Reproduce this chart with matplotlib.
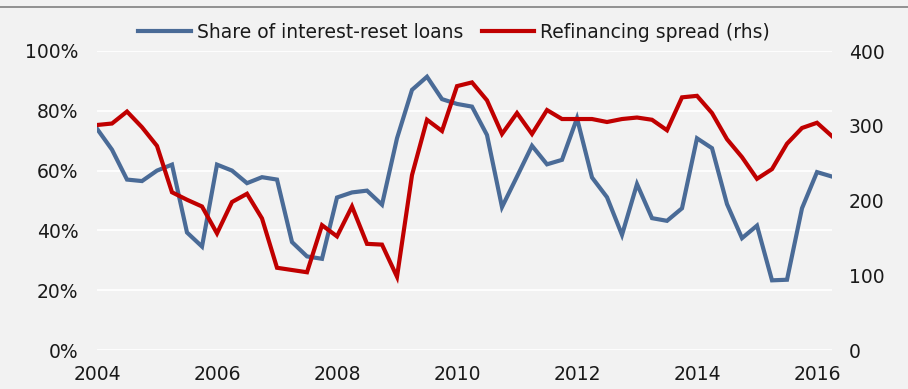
import matplotlib.pyplot as plt
import numpy as np

# quarterly observations, 2004Q1 .. 2016Q2
quarters = [f'{y}Q{q}' for y in range(2004, 2017) for q in range(1, 5)][:50]

# share of interest-reset loans (%), left axis
reset_share = [74, 67, 57, 56.5, 60, 62, 39.3, 34.6, 62, 60,
               55.8, 57.8, 57, 36.1, 31.3, 30.5, 51, 52.7, 53.3, 48.6,
               70.8, 87, 91.4, 83.9, 82.3, 81.4, 71.9, 47.8, 58, 68.3,
               62.1, 63.6, 77.5, 57.7, 51.1, 38.5, 55.5, 44.1, 43.2, 47.4,
               70.8, 67.5, 48.8, 37.4, 41.6, 23.3, 23.5, 47.4, 59.5, 58]

# refinancing spread (bp), right axis
refi_spread = [301, 303, 319, 298, 273, 211, 201, 192, 156, 198,
               209, 176, 110, 107, 104, 167, 152, 192, 142, 141,
               98, 234, 308, 293, 353, 358, 334, 289, 317, 289,
               321, 309, 309, 309, 305, 309, 311, 308, 294, 338,
               340, 317, 282, 258, 229, 242, 276, 297, 304, 286]

year_ticks = [0, 8, 16, 24, 32, 40, 48]
year_labels = ['2004', '2006', '2008', '2010', '2012', '2014', '2016']

bg = '#f2f2f2'
blue = '#4a6b97'
red = '#c00000'
txt = '#1a1a1a'

plt.rcParams['font.family'] = ['DejaVu Sans']

fig = plt.figure(figsize=(9.08, 3.89), dpi=100, facecolor=bg)
ax = fig.add_axes([97/908, 1 - 350/389, 735/908, 299/389], facecolor=bg)
ax2 = ax.twinx()

x = np.arange(len(quarters))

# white horizontal gridlines from the left scale
for v in [0, 20, 40, 60, 80, 100]:
    ax.axhline(v, color='white', lw=1.3, zorder=0)

l1, = ax.plot(x, reset_share, color=blue, lw=3, solid_joinstyle='miter',
              label='Share of interest-reset loans', zorder=3)
l2, = ax2.plot(x, refi_spread, color=red, lw=3, solid_joinstyle='miter',
               label='Refinancing spread (rhs)', zorder=3)

ax.set_xlim(0, 49)
ax.set_ylim(0, 100)
ax2.set_ylim(0, 400)

ax.set_yticks([0, 20, 40, 60, 80, 100])
ax.set_yticklabels([f'{v}%' for v in [0, 20, 40, 60, 80, 100]])
ax2.set_yticks([0, 100, 200, 300, 400])
ax.set_xticks(year_ticks)
ax.set_xticklabels(year_labels)

ax.tick_params(axis='y', length=0, pad=13.5, labelsize=13.5, labelcolor=txt)
ax.tick_params(axis='x', length=0, pad=11, labelsize=13.5, labelcolor=txt)
ax2.tick_params(axis='y', length=0, pad=12, labelsize=13.5, labelcolor=txt)

for a in (ax, ax2):
    for s in a.spines.values():
        s.set_visible(False)

fig.legend(handles=[l1, l2], loc='center', bbox_to_anchor=(0.5, 1 - 32/389),
           ncol=2, frameon=False, fontsize=13.5, handlelength=2.8,
           columnspacing=1.0, handletextpad=0.3, labelcolor=txt)

# thin grey rule along the top
fig.add_artist(plt.Line2D([0, 1], [1 - 7/389, 1 - 7/389], color='#808080',
                          lw=1.2, transform=fig.transFigure))

fig.savefig('out.png', dpi=100, facecolor=bg)
